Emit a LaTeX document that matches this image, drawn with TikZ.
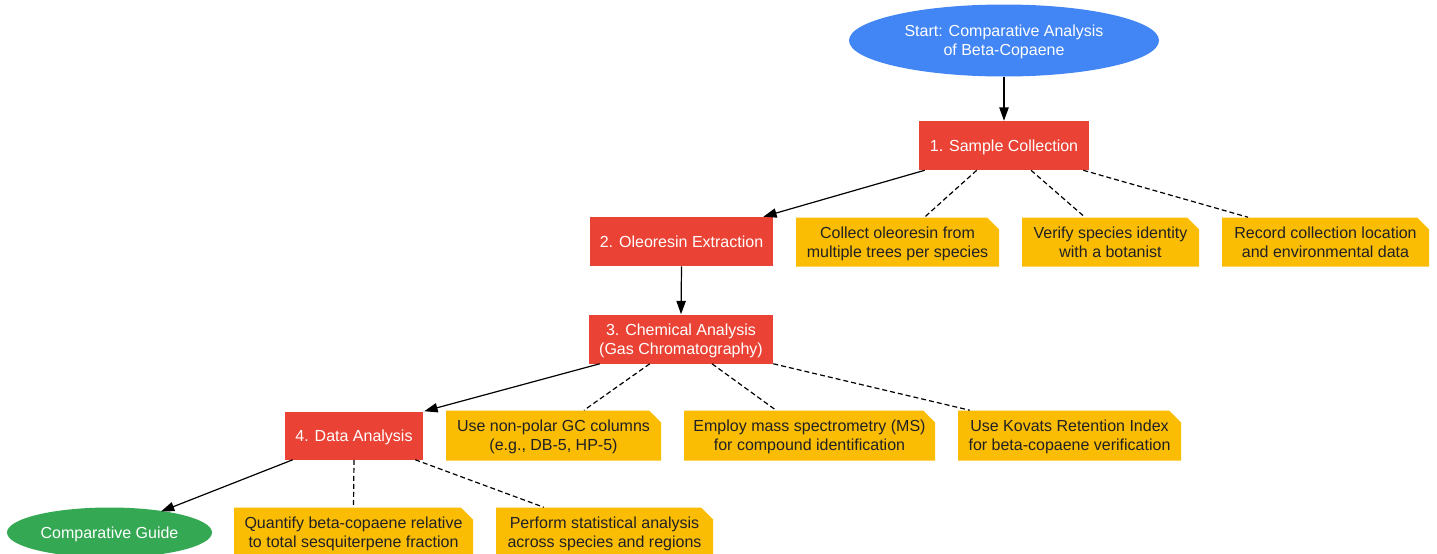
\documentclass[tikz,border=0pt]{standalone}
\usepackage{fontspec}
\setmainfont{Liberation Sans}
\usetikzlibrary{shapes.geometric,shapes.misc,arrows.meta,calc}
\definecolor{gred}{HTML}{EA4335}
\definecolor{gyel}{HTML}{FBBC04}
\definecolor{gblue}{HTML}{4285F4}
\definecolor{ggreen}{HTML}{34A853}
\definecolor{gtext}{HTML}{202124}
\tikzset{
  every node/.style={font=\fontsize{12pt}{14.25pt}\selectfont, align=center, inner sep=0pt, text depth=0pt},
  stepbox/.style={rectangle, fill=gred, text=white, minimum height=36.75pt},
  notebox/.style={chamfered rectangle, chamfered rectangle corners=north east,
     chamfered rectangle xsep=4.5pt, chamfered rectangle ysep=4.5pt,
     fill=gyel, text=gtext, minimum height=36.75pt},
  termnode/.style={ellipse, text=white},
  arr/.style={line width=0.9pt, -{Triangle[length=10pt,width=7pt]}},
  link/.style={line width=0.9pt, dash pattern=on 3.75pt off 2.25pt},
}
\begin{document}
\begin{tikzpicture}[x=0.75pt,y=-0.75pt]
\clip (0,0) rectangle (1437,553);
\fill[white] (0,0) rectangle (1437,553);
\node[termnode, fill=gblue, minimum width=232.5pt, minimum height=54pt] (start) at (1004,40.5) {Start: Comparative Analysis\\of Beta-Copaene};
\node[stepbox, minimum width=127.5pt] (sc) at (1004,145.5) {1. Sample Collection};
\node[stepbox, minimum width=137.25pt] (ol) at (681.5,241.5) {2. Oleoresin Extraction};
\node[notebox, minimum width=152.25pt] (n1) at (897.5,242) {Collect oleoresin from\\multiple trees per species};
\node[notebox, minimum width=132.75pt] (n2) at (1110.5,242) {Verify species identity\\with a botanist};
\node[notebox, minimum width=155.25pt] (n3) at (1325.5,242) {Record collection location\\and environmental data};
\node[stepbox, minimum width=138pt] (ca) at (681,339) {3. Chemical Analysis\\(Gas Chromatography)};
\node[notebox, minimum width=161.25pt, minimum height=37.5pt] (gc) at (553.5,435.5) {Use non-polar GC columns\\(e.g., DB-5, HP-5)};
\node[notebox, minimum width=188.25pt, minimum height=37.5pt] (ms) at (809.5,435.5) {Employ mass spectrometry (MS)\\for compound identification};
\node[notebox, minimum width=167.25pt, minimum height=37.5pt] (kv) at (1069.5,435.5) {Use Kovats Retention Index\\for beta-copaene verification};
\node[stepbox, minimum width=103.5pt, minimum height=36pt] (da) at (354,435.5) {4. Data Analysis};
\node[termnode, fill=ggreen, minimum width=153.75pt, minimum height=37.5pt] (cg) at (109.5,532.5) {Comparative Guide};
\node[notebox, minimum width=179.25pt] (q) at (353.5,532) {Quantify beta-copaene relative\\to total sesquiterpene fraction};
\node[notebox, minimum width=162.75pt] (p) at (604.5,532) {Perform statistical analysis\\across species and regions};

\draw[arr] (start.south) -- (sc.north);
\draw[arr] ($(sc.south west)+(6,0)$) -- ($(ol.north east)+(-10,0)$);
\draw[link] ($(sc.south west)+(58,0)$) -- ($(n1.north)+(27,0)$);
\draw[link] ($(sc.south)+(27,0)$) -- ($(n2.north)+(-25.5,0)$);
\draw[link] ($(sc.south east)+(-6,0)$) -- ($(n3.north)+(-77.5,0)$);
\draw[arr] (ol.south) -- (ca.north);
\draw[arr] ($(ca.south west)+(11,0)$) -- ($(da.north east)+(1,0)$);
\draw[link] ($(ca.south west)+(61,0)$) -- ($(gc.north)+(30.5,0)$);
\draw[link] ($(ca.south)+(31,0)$) -- ($(ms.north)+(-33.5,0)$);
\draw[link] (ca.south east) -- ($(kv.north west)+(12,0)$);
\draw[arr] ($(da.south west)+(8,0)$) -- ($(cg.center)+(51.5,-21)$);
\draw[link] (da.south) -- (q.north);
\draw[link] ($(da.south east)+(-8,0)$) -- ($(p.north west)+(48,0)$);
\end{tikzpicture}
\end{document}
